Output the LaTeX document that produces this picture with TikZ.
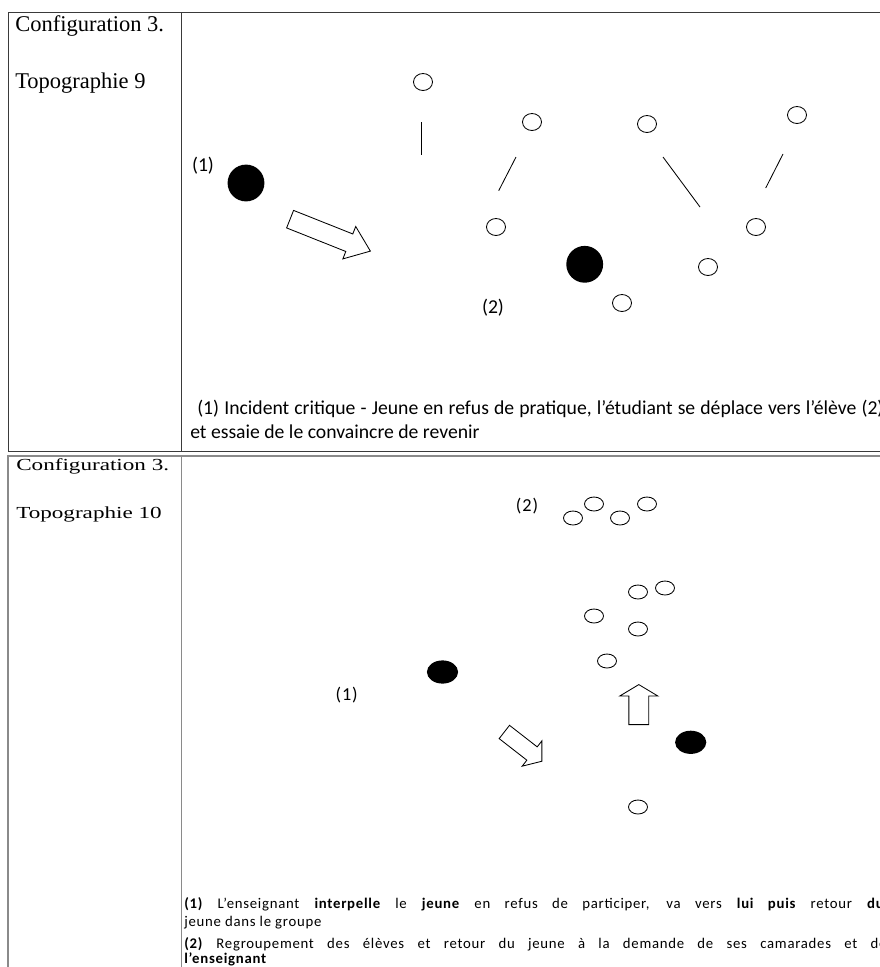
\documentclass[tikz,border=0pt]{standalone}
\usepackage{fontspec}
\setmainfont{Liberation Serif}
\newfontfamily\notefont{Carlito}
\newfontfamily\widefont[LetterSpace=5]{Carlito}
\usetikzlibrary{shapes.geometric,shapes.arrows}
\definecolor{RuleDark}{HTML}{3A3A3A}
\definecolor{RuleGrey}{HTML}{8A8A8A}
\newcommand{\wide}[1]{\scalebox{1.37}[1]{\fontsize{12}{14}\selectfont #1}}

\begin{document}
\begin{tikzpicture}[x=0.025cm,y=-0.025cm,
    cfg/.style={anchor=base west,inner sep=0pt,font=\fontsize{16}{19}\selectfont},
    note/.style={anchor=base west,inner sep=0pt,font=\notefont\fontsize{14}{17}\selectfont},
    noteB/.style={anchor=base west,inner sep=0pt,font=\widefont\fontsize{10.5}{13}\selectfont},
    tag/.style={font=\notefont\fontsize{14}{17}\selectfont},
    tagB/.style={font=\widefont\fontsize{13}{16}\selectfont},
    pupil/.style={ellipse,draw,line width=0.6pt,inner sep=0pt,minimum width=0.475cm,minimum height=0.425cm},
    pupilB/.style={ellipse,draw,line width=0.6pt,inner sep=0pt,minimum width=0.475cm,minimum height=0.35cm},
    coach/.style={circle,fill=black,inner sep=0pt,minimum size=0.92cm},
    coachB/.style={ellipse,fill=black,inner sep=0pt,minimum width=0.78cm,minimum height=0.58cm},
    fatarrow/.style={single arrow,draw,line width=0.6pt,fill=white,inner xsep=0pt,anchor=tail},
    rule/.style={RuleDark,line width=0.7pt},
    ruleB/.style={RuleGrey,line width=0.9pt}
  ]
    \useasboundingbox (0,0) rectangle (880,967);
    \clip (0,0) rectangle (880,967);

    % table rules
    \draw[rule] (880,12.5) -- (8,12.5) -- (8,451.5) -- (880,451.5);
    \draw[rule] (181.5,12.5) -- (181.5,451.5);
    \draw[ruleB] (880,456) -- (8,456) -- (8,967);
    \draw[ruleB] (181.5,456) -- (181.5,967);

    % Topographie 9
    \node[cfg] (cfgA) at (15,31) {Configuration 3.};
    \node[cfg] (topoA) at (15,88) {Topographie 9};

    \node[coach] (coachA1) at (246,183) {};
    \node[coach] (coachA2) at (584.7,264.3) {};
    \node[tag] (labA1) at (203,166) {(1)};
    \node[tag] (labA2) at (493,308) {(2)};

    \node[pupil] (pA1) at (423,82) {};
    \node[pupil] (pA2) at (532,122) {};
    \node[pupil] (pA3) at (647,124) {};
    \node[pupil] (pA4) at (797,115) {};
    \node[pupil] (pA5) at (496,227) {};
    \node[pupil] (pA6) at (756,227) {};
    \node[pupil] (pA7) at (708,267) {};
    \node[pupil] (pA8) at (622,303) {};

    \draw[line width=0.6pt] (421.7,122) -- (421.7,155);
    \draw[line width=0.6pt] (516,157) -- (498.7,190.7);
    \draw[line width=0.6pt] (663,157) -- (700,207);
    \draw[line width=0.6pt] (783,154) -- (765.7,188);

    \node[fatarrow,rotate=-21.7,minimum height=2.16cm,inner ysep=0.225cm,
      single arrow head extend=0.2cm,single arrow tip angle=75] (moveA) at (289.7,219) {};

    \node[note] (noteA1) at (197,414) {\makebox[17.15cm][s]{(1) Incident critique - Jeune en refus de pratique, l’étudiant se déplace vers l’élève (2)}};
    \node[note] (noteA2) at (190,438) {et essaie de le convaincre de revenir};

    % Topographie 10
    \node[anchor=base west,inner sep=0pt] (cfgB) at (16,470) {\wide{Configuration 3.}};
    \node[anchor=base west,inner sep=0pt] (topoB) at (16,518) {\wide{Topographie 10}};

    \node[tagB] (labB2) at (527,506) {(2)};
    \node[tagB] (labB1) at (346.7,695) {(1)};

    \node[pupilB] (pB1) at (573,518) {};
    \node[pupilB] (pB2) at (594,504) {};
    \node[pupilB] (pB3) at (620,518) {};
    \node[pupilB] (pB4) at (647,504) {};
    \node[pupilB] (pB5) at (638,592) {};
    \node[pupilB] (pB6) at (665,588) {};
    \node[pupilB] (pB7) at (594,616) {};
    \node[pupilB] (pB8) at (638,629) {};
    \node[pupilB] (pB9) at (607,661) {};
    \node[pupilB] (pB10) at (638,807) {};

    \node[coachB] (coachB1) at (442.5,672) {};
    \node[coachB] (coachB2) at (690.7,742.3) {};

    \node[fatarrow,rotate=-37.9,minimum height=1.19cm,inner ysep=0.2cm,
      single arrow head extend=0.19cm,single arrow tip angle=104] (moveB1) at (504,731.7) {};
    \node[fatarrow,rotate=90,minimum height=1.0cm,inner ysep=0.2375cm,
      single arrow head extend=0.225cm,single arrow tip angle=118] (moveB2) at (638.8,725) {};

    \node[noteB] (noteB1) at (184,908) {\makebox[17.5cm][s]{\textbf{(1)} L’enseignant \textbf{interpelle} le \textbf{jeune} en refus de participer, va vers \textbf{lui puis} retour \textbf{du}}};
    \node[noteB] (noteB2) at (184,926) {jeune dans le groupe};
    \node[noteB] (noteB3) at (184,948) {\makebox[17.55cm][s]{\textbf{(2)} Regroupement des élèves et retour du jeune à la demande de ses camarades et de}};
    \node[noteB] (noteB4) at (184,963) {\textbf{l’enseignant}};
  \end{tikzpicture}
\end{document}
